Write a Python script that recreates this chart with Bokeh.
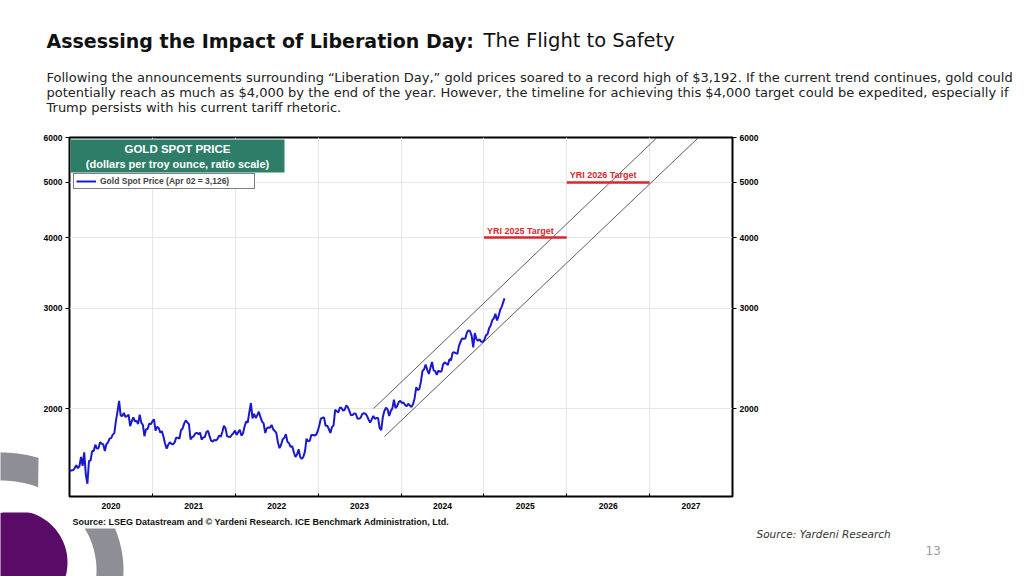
import numpy as np
import pandas as pd
from bokeh.plotting import figure
from bokeh.layouts import column, row
from bokeh.models import (Range1d, FixedTicker, LogAxis, CustomJSTickFormatter, Label,
                          BoxAnnotation, ColumnDataSource)
from bokeh.core.properties import value
from bokeh.embed import file_html
from bokeh.resources import INLINE

# ---------------- data (weekly Friday closes, USD per troy ounce) ----------------
gold_2020_start = "2020-01-03"
gold_2020 = [1552, 1557, 1557, 1571, 1589,
             1570, 1584, 1643, 1585,
             1674, 1530, 1474, 1617,
             1620, 1683, 1683, 1727,
             1700, 1703, 1744, 1735, 1730,
             1684, 1730, 1744, 1771,
             1774, 1799, 1810, 1902, 1975,
             2063, 1944, 1940, 1964,
             1934, 1940, 1950, 1862,
             1900, 1930, 1899, 1902, 1879,
             1951, 1889, 1871, 1788,
             1839, 1840, 1881, 1877]
gold_2021_start = "2021-01-01"
gold_2021 = [1898, 1915, 1828, 1856, 1848,
             1814, 1824, 1784, 1734,
             1700, 1727, 1745, 1733,
             1729, 1744, 1777, 1777, 1769,
             1831, 1844, 1881, 1905,
             1891, 1877, 1764, 1781,
             1787, 1808, 1812, 1802, 1814,
             1763, 1779, 1781, 1818,
             1827, 1788, 1754, 1750,
             1761, 1757, 1768, 1793, 1783,
             1818, 1865, 1846, 1788,
             1783, 1782, 1798, 1809, 1829]
gold_2022_start = "2022-01-07"
gold_2022 = [1797, 1817, 1835, 1792,
             1808, 1859, 1898, 1889,
             1970, 2045, 1921, 1958,
             1925, 1947, 1974, 1931, 1896,
             1883, 1811, 1846, 1853,
             1850, 1871, 1839, 1826,
             1811, 1742, 1703, 1727, 1766,
             1775, 1802, 1747, 1737,
             1712, 1716, 1675, 1643, 1660,
             1695, 1644, 1630, 1645,
             1681, 1770, 1751, 1754,
             1797, 1797, 1793, 1798, 1824]
gold_2023_start = "2023-01-06"
gold_2023 = [1865, 1920, 1926, 1928,
             1865, 1865, 1842, 1811,
             1856, 1868, 1989, 1978, 1969,
             2008, 2004, 1983, 1990,
             2025, 2011, 1978, 1946,
             1948, 1961, 1958, 1921, 1919,
             1925, 1955, 1962, 1959,
             1942, 1913, 1889, 1914,
             1940, 1919, 1924, 1925, 1848,
             1833, 1932, 1981, 2006,
             1992, 1940, 1981, 2001,
             2072, 2004, 2019, 2053, 2063]
gold_2024_start = "2024-01-05"
gold_2024 = [2045, 2049, 2029, 2018,
             2039, 2024, 2013, 2035,
             2083, 2179, 2155, 2165, 2230,
             2329, 2344, 2391, 2337,
             2301, 2360, 2415, 2334, 2327,
             2293, 2333, 2322, 2326,
             2392, 2411, 2400, 2387,
             2443, 2431, 2507, 2512, 2503,
             2497, 2578, 2622, 2658,
             2653, 2656, 2720, 2747,
             2736, 2685, 2563, 2715, 2650,
             2633, 2648, 2622, 2621]
gold_2025_start = "2025-01-03"
gold_2025 = [2640, 2690, 2703, 2770, 2800,
             2861, 2883, 2936, 2858,
             2910, 2984, 3023, 3085]
gold_last_date = "2025-04-02"
gold_last = 3126

# trend channel (ratio scale)
channel_upper_x = [2023.67, 2027.09]
channel_upper_y = [2000, 6000]
channel_lower_x = [2023.80, 2027.59]
channel_lower_y = [1785, 6000]

# YRI targets
target_start = [2025, 2026]
target_end = [2026, 2027]
target_value = [4000, 5000]
target_label = ["YRI 2025 Target", "YRI 2026 Target"]

y_ticks = [2000, 3000, 4000, 5000, 6000]
year_bounds = list(range(2020, 2029))
year_labels = list(range(2020, 2028))

title_bold = "Assessing the Impact of Liberation Day:"
title_rest = "The Flight to Safety"
subtitle_lines = [
    "Following the announcements surrounding \u201cLiberation Day,\u201d gold prices soared to a record high of $3,192. If the current trend continues, gold could",
    "potentially reach as much as $4,000 by the end of the year. However, the timeline for achieving this $4,000 target could be expedited, especially if",
    "Trump persists with his current tariff rhetoric.",
]
chart_source = "Source: LSEG Datastream and \u00a9 Yardeni Research. ICE Benchmark Administration, Ltd."
slide_source = "Source: Yardeni Research"
page_number = "13"
box_title = "GOLD SPOT PRICE"
box_subtitle = "(dollars per troy ounce, ratio scale)"
legend_text = "Gold Spot Price (Apr 02 = 3,126)"

# ---------------- build series ----------------
blocks = [(gold_2020_start, gold_2020), (gold_2021_start, gold_2021), (gold_2022_start, gold_2022),
          (gold_2023_start, gold_2023), (gold_2024_start, gold_2024), (gold_2025_start, gold_2025)]
dates = []
prices = []
for start, vals in blocks:
    dates.extend(list(pd.date_range(start, periods=len(vals), freq="W-FRI")))
    prices.extend(vals)
dates.append(pd.Timestamp(gold_last_date))
prices.append(gold_last)
di = pd.DatetimeIndex(dates)
dec_year = di.year + (di.dayofyear - 1) / np.where(di.is_leap_year, 366.0, 365.0)
src = ColumnDataSource(dict(x=np.asarray(dec_year, dtype=float), y=prices))

# ---------------- page geometry ----------------
W, H = 1024, 576
HEADER_H = 129
LEFT_W = 40
CH_TOP, CH_BOT = 8, 16
FRAME_W, FRAME_H = 663, 359
FRAME_TOP = HEADER_H + CH_TOP          # 137
FRAME_BOT = FRAME_TOP + FRAME_H        # 496
CH_LEFT = 68 - LEFT_W
CH_RIGHT = W - (68 + FRAME_W)
CHART_H = CH_TOP + FRAME_H + CH_BOT
FOOT_TOP = HEADER_H + CHART_H
FOOT_H = H - FOOT_TOP

SL_FONT = "DejaVu Sans"
AX_FONT = "Liberation Sans"
GREY = "#8e8e96"
PURPLE = "#5a0b68"


def blank(width, height, x0, x1, ytop, ybot):
    f = figure(width=width, height=height, x_range=Range1d(x0, x1), y_range=Range1d(ybot, ytop),
               min_border=0, x_axis_location=None, y_axis_location=None,
               toolbar_location=None, output_backend="svg", outline_line_color=None)
    f.title.visible = False
    f.grid.grid_line_color = None
    f.background_fill_color = "white"
    f.border_fill_color = "white"
    return f


def ring_poly(cx, cy, r_in, r_out, a_out0, a_out1, a_in0, a_in1, n=60):
    ao = np.radians(np.linspace(a_out0, a_out1, n))
    ai = np.radians(np.linspace(a_in1, a_in0, n))
    X = np.concatenate([cx + r_out * np.cos(ao), cx + r_in * np.cos(ai)])
    Y = np.concatenate([cy - r_out * np.sin(ao), cy - r_in * np.sin(ai)])
    return X, Y


ang = np.radians(np.linspace(0, 360, 120))
purple_x = 15 + 52 * np.cos(ang)
purple_y = 562 - 52 * np.sin(ang)
arc1_x, arc1_y = ring_poly(0, 590, 110, 138, 74, 115, 70, 115)
arc2_x, arc2_y = ring_poly(15, 570, 81, 108, 22.9, -40, 31.2, -40)

# ---------------- header ----------------
head = blank(W, HEADER_H, 0, W, 0, HEADER_H)
head.text(x=[46], y=[40], text=[title_bold], text_font=value(SL_FONT), text_font_style="bold",
          text_font_size="19px", text_color="#111111", text_baseline="middle")
head.text(x=[483], y=[40], text=[title_rest], text_font=value(SL_FONT),
          text_font_size="19.5px", text_color="#111111", text_baseline="middle")
head.text(x=[46, 46, 46], y=[77, 92, 107], text=subtitle_lines, text_font=value(SL_FONT),
          text_font_size="13px", text_color="#222222", text_baseline="middle")

# ---------------- left strip (its frame is aligned with the chart frame) ----------------
left = blank(LEFT_W, CHART_H, 0, LEFT_W, FRAME_TOP, FRAME_BOT)
left.min_border_top = CH_TOP
left.min_border_bottom = CH_BOT
left.patch(arc1_x, arc1_y, fill_color=GREY, line_color=None)

# ---------------- chart ----------------
p = figure(frame_width=FRAME_W, frame_height=FRAME_H,
           x_range=Range1d(2020, 2028), y_range=Range1d(1400, 6000),
           y_axis_type="log", output_backend="svg", toolbar_location=None,
           min_border_left=CH_LEFT, min_border_right=CH_RIGHT,
           min_border_top=CH_TOP, min_border_bottom=CH_BOT)
p.title.visible = False
p.background_fill_color = "white"
p.border_fill_color = "white"
p.outline_line_color = "black"
p.outline_line_width = 2

p.yaxis.ticker = FixedTicker(ticks=y_ticks)
p.yaxis.formatter = CustomJSTickFormatter(code="return tick.toFixed(0)")
right = LogAxis(ticker=FixedTicker(ticks=y_ticks),
                formatter=CustomJSTickFormatter(code="return tick.toFixed(0)"))
p.add_layout(right, "right")
for ax in [p.yaxis[0], right]:
    ax.axis_line_color = None
    ax.minor_tick_line_color = None
    ax.major_tick_out = 4
    ax.major_tick_in = 0
    ax.major_tick_line_color = "black"
    ax.major_label_standoff = 3
    ax.major_label_text_font = AX_FONT
    ax.major_label_text_font_style = "bold"
    ax.major_label_text_font_size = "8.5px"
    ax.major_label_text_color = "black"

p.xaxis.ticker = FixedTicker(ticks=[y + 0.5 for y in year_labels], minor_ticks=year_bounds)
p.xaxis.formatter = CustomJSTickFormatter(code="return Math.floor(tick).toString()")
p.xaxis.axis_line_color = None
p.xaxis.major_tick_line_color = None
p.xaxis.major_tick_out = 0
p.xaxis.major_tick_in = 0
p.xaxis.minor_tick_line_color = "black"
p.xaxis.minor_tick_in = 3
p.xaxis.minor_tick_out = 0
p.xaxis.major_label_standoff = 6
p.xaxis.major_label_text_font = AX_FONT
p.xaxis.major_label_text_font_style = "bold"
p.xaxis.major_label_text_font_size = "8.5px"
p.xaxis.major_label_text_color = "black"

p.xgrid.ticker = FixedTicker(ticks=year_bounds)
p.ygrid.ticker = FixedTicker(ticks=[2000, 3000, 4000, 5000])
p.xgrid.grid_line_color = "#e6e6e6"
p.ygrid.grid_line_color = "#e6e6e6"

# frame-relative screen helpers (for the chart's own title box)
def fx(X): return X - 68
def fy(Y): return FRAME_BOT - Y

p.add_layout(BoxAnnotation(left=fx(69), right=fx(283), bottom=fy(172), top=fy(139),
                           left_units="screen", right_units="screen",
                           bottom_units="screen", top_units="screen",
                           fill_color="#2e7d68", fill_alpha=1, line_color=None))
p.add_layout(Label(x=fx(176), y=fy(148), x_units="screen", y_units="screen",
                   text=box_title, text_align="center", text_baseline="middle",
                   text_font=AX_FONT, text_font_style="bold", text_font_size="11.5px",
                   text_color="white"))
p.add_layout(Label(x=fx(176), y=fy(163), x_units="screen", y_units="screen",
                   text=box_subtitle, text_align="center", text_baseline="middle",
                   text_font=AX_FONT, text_font_style="bold", text_font_size="11px",
                   text_color="white"))

p.line(channel_upper_x, channel_upper_y, line_color="#4a4a4a", line_width=0.9)
p.line(channel_lower_x, channel_lower_y, line_color="#4a4a4a", line_width=0.9)

tsrc = ColumnDataSource(dict(x0=target_start, x1=target_end, y=target_value, t=target_label))
p.segment(x0="x0", y0="y", x1="x1", y1="y", source=tsrc, line_color="#d9262c", line_width=2.5)
p.text(x="x0", y="y", text="t", source=tsrc, x_offset=3, y_offset=-7,
       text_font=value(AX_FONT), text_font_style="bold", text_font_size="9px",
       text_color="#d9262c", text_baseline="middle", text_align="left")

p.line("x", "y", source=src, line_color="#1a1acc", line_width=2, legend_label=legend_text)
lg = p.legend[0]
lg.location = (fx(72), fy(189))
lg.border_line_color = "black"
lg.border_line_width = 1
lg.background_fill_alpha = 1
lg.label_text_font = AX_FONT
lg.label_text_font_style = "bold"
lg.label_text_font_size = "8.5px"
lg.glyph_width = 20
lg.glyph_height = 10
lg.label_height = 10
lg.label_width = 152
lg.padding = 2
lg.margin = 0
lg.spacing = 0
lg.label_standoff = 4

# ---------------- footer ----------------
foot = blank(W, FOOT_H, 0, W, FOOT_TOP, H)
foot.patch(purple_x, purple_y, fill_color=PURPLE, line_color=None)
foot.patch(arc2_x, arc2_y, fill_color=GREY, line_color=None)
foot.text(x=[72], y=[521.5], text=[chart_source], text_font=value(AX_FONT), text_font_style="bold",
          text_font_size="9px", text_color="#111111", text_baseline="middle")
foot.text(x=[756], y=[533.5], text=[slide_source], text_font=value(SL_FONT), text_font_style="italic",
          text_font_size="10.5px", text_color="#333333", text_baseline="middle")
foot.text(x=[925], y=[549.5], text=[page_number], text_font=value(SL_FONT),
          text_font_size="12px", text_color="#9a9a9a", text_baseline="middle")

layout = column(head, row(left, p, spacing=0), foot, spacing=0)
open("out.html", "w").write(file_html(layout, INLINE))
